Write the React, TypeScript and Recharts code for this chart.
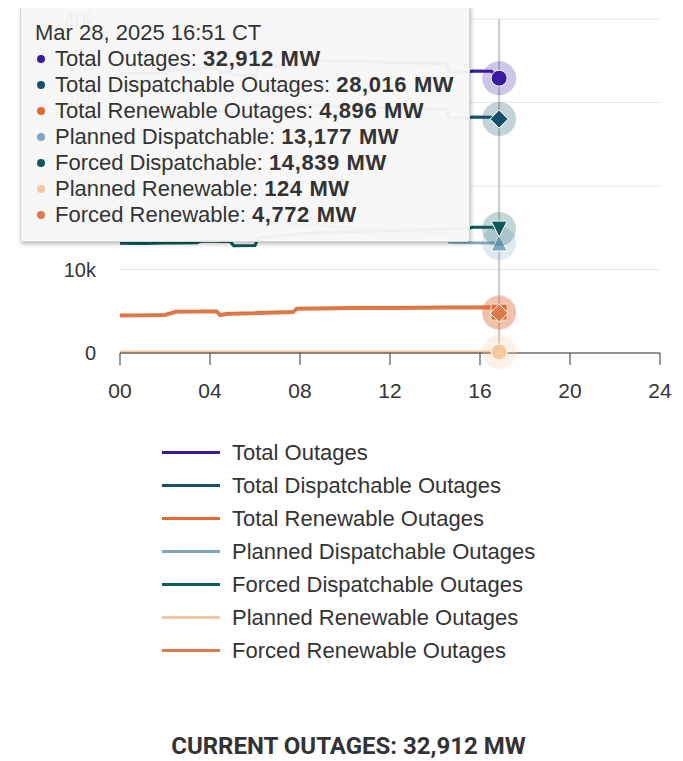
import React from 'react';
import { LineChart, Line, XAxis, YAxis, CartesianGrid, Tooltip, Legend, ReferenceLine } from 'recharts';

// ---- data (MW) ----
const hours = [0, 1.0, 2.0, 2.5, 3.4, 3.6, 4.3, 4.45, 4.75, 4.9, 5.05, 6.0, 6.15, 7.7, 7.85, 9, 10.5, 12, 13.5, 14.5, 14.65, 15.5, 15.65, 16.5, 16.85];
const totalOutages = [33510, 33480, 33532, 33905, 33915, 34088, 34038, 33598, 33690, 33720, 33220, 33241, 34221, 34542, 35012, 35023, 34953, 34804, 34704, 34684, 33664, 33664, 33774, 33754, 32912];
const totalDispatchable = [28970, 28920, 28920, 28910, 28900, 29060, 29020, 29000, 28970, 28960, 28450, 28420, 29360, 29570, 29660, 29620, 29500, 29340, 29210, 29180, 28160, 28150, 28260, 28230, 28016];
const totalRenewable = [4540, 4560, 4612, 4995, 5015, 5028, 5018, 4598, 4720, 4760, 4770, 4821, 4861, 4972, 5352, 5403, 5453, 5464, 5494, 5504, 5504, 5514, 5514, 5524, 4896];
const plannedDispatchable = [15820, 15800, 15760, 15740, 15700, 15680, 15650, 15640, 15620, 15610, 15600, 15560, 15540, 15420, 15400, 15200, 14950, 14700, 14450, 14300, 13260, 13240, 13200, 13180, 13177];
const forcedDispatchable = [13150, 13120, 13160, 13170, 13200, 13380, 13370, 13360, 13350, 13350, 12850, 12860, 13820, 14150, 14260, 14420, 14550, 14640, 14760, 14880, 14900, 14910, 15060, 15050, 14839];
const plannedRenewable = [110, 110, 112, 115, 115, 118, 118, 118, 120, 120, 120, 121, 121, 122, 122, 123, 123, 124, 124, 124, 124, 124, 124, 124, 124];
const forcedRenewable = [4430, 4450, 4500, 4880, 4900, 4910, 4900, 4480, 4600, 4640, 4650, 4700, 4740, 4850, 5230, 5280, 5330, 5340, 5370, 5380, 5380, 5390, 5390, 5400, 4772];

const seriesKeys = ['total', 'totalDisp', 'totalRen', 'plannedDisp', 'forcedDisp', 'plannedRen', 'forcedRen'];
const legendNames = ['Total Outages', 'Total Dispatchable Outages', 'Total Renewable Outages', 'Planned Dispatchable Outages', 'Forced Dispatchable Outages', 'Planned Renewable Outages', 'Forced Renewable Outages'];
const tooltipNames = ['Total Outages', 'Total Dispatchable Outages', 'Total Renewable Outages', 'Planned Dispatchable', 'Forced Dispatchable', 'Planned Renewable', 'Forced Renewable'];
const colors = ['#3a1aa0', '#14506b', '#e5682f', '#7fa6c2', '#0c5a5a', '#f6c7a0', '#dc7a4a'];
const markerShapes = ['circle', 'diamond', 'square', 'triangle', 'triangle-down', 'circle', 'diamond'];

const yTicks = [0, 10000, 20000, 30000, 40000];
const yTickLabels = ['0', '10k', '20k', '30k', '40k'];
const xTicks = [0, 4, 8, 12, 16, 20, 24];
const xTickLabels = ['00', '04', '08', '12', '16', '20', '24'];
const dateLabel = 'Mar 28, 2025';
const tzLabel = 'CT';
const currentLabel = 'CURRENT OUTAGES: 32,912 MW';

const seriesValues = [totalOutages, totalDispatchable, totalRenewable, plannedDispatchable, forcedDispatchable, plannedRenewable, forcedRenewable];
const data = hours.map((h, i) => {
  const row: any = { hour: h };
  seriesKeys.forEach((k, s) => { row[k] = seriesValues[s][i]; });
  return row;
});
const hoverHour = hours[hours.length - 1];

const FONT = '"Liberation Sans", Arial, sans-serif';

function makeActiveDot(shape: string, color: string) {
  return (props: any) => {
    const { cx, cy } = props;
    if (cx == null || cy == null) return <g />;
    const r = 8;
    let mark: any;
    if (shape === 'circle') {
      mark = <circle cx={cx} cy={cy} r={r} fill={color} stroke="#fff" strokeWidth={1} />;
    } else if (shape === 'diamond') {
      const d = r + 1;
      mark = <path d={`M${cx},${cy - d}L${cx + d},${cy}L${cx},${cy + d}L${cx - d},${cy}Z`} fill={color} stroke="#fff" strokeWidth={1} />;
    } else if (shape === 'square') {
      mark = <rect x={cx - r} y={cy - r} width={2 * r} height={2 * r} fill={color} stroke="#fff" strokeWidth={1} />;
    } else if (shape === 'triangle') {
      mark = <path d={`M${cx},${cy - r}L${cx + r},${cy + r}L${cx - r},${cy + r}Z`} fill={color} stroke="#fff" strokeWidth={1} />;
    } else {
      mark = <path d={`M${cx - r},${cy - r}L${cx + r},${cy - r}L${cx},${cy + r}Z`} fill={color} stroke="#fff" strokeWidth={1} />;
    }
    return (
      <g>
        <circle cx={cx} cy={cy} r={17} fill={color} fillOpacity={0.25} />
        {mark}
      </g>
    );
  };
}

function fmtTime(h: number) {
  const hh = Math.floor(h);
  const mm = Math.round((h - hh) * 60);
  return `${String(hh).padStart(2, '0')}:${String(mm).padStart(2, '0')}`;
}

const TooltipBox = (props: any) => {
  const { payload, label } = props;
  if (!payload || !payload.length) return null;
  return (
    <div
      style={{
        width: 450,
        boxSizing: 'border-box',
        background: 'rgba(247,247,247,0.96)',
        border: '1px solid #d6d6d6',
        borderRadius: 3,
        boxShadow: '1px 2px 4px rgba(0,0,0,0.28)',
        padding: '14px 6px 13px 14px',
        fontFamily: FONT,
        fontSize: 22,
        lineHeight: '26px',
        color: '#333',
        whiteSpace: 'nowrap',
      }}
    >
      <div>{`${dateLabel} ${fmtTime(Number(label))} ${tzLabel}`}</div>
      {payload.map((p: any) => {
        const i = seriesKeys.indexOf(p.dataKey);
        return (
          <div key={p.dataKey} style={{ display: 'flex', alignItems: 'center' }}>
            <span style={{ display: 'inline-block', width: 8, height: 8, borderRadius: '50%', background: colors[i], marginLeft: 2, marginRight: 10, flexShrink: 0 }} />
            <span>
              {tooltipNames[i]}: <b style={{ letterSpacing: 0.6 }}>{Number(p.value).toLocaleString('en-US')} MW</b>
            </span>
          </div>
        );
      })}
    </div>
  );
};

const LegendBox = () => (
  <div style={{ fontFamily: FONT, fontSize: 22, color: '#333', width: 420 }}>
    {legendNames.map((n, i) => (
      <div key={n} style={{ height: 33, display: 'flex', alignItems: 'center', whiteSpace: 'nowrap' }}>
        <span style={{ width: 58, height: 3, background: colors[i], marginRight: 12, flexShrink: 0 }} />
        <span>{n}</span>
      </div>
    ))}
  </div>
);

export default function App() {
  return (
    <div style={{ position: 'relative', width: 667, height: 753, fontFamily: FONT }}>
      <div style={{ position: 'absolute', left: -8, top: -8, width: 670, height: 3, background: 'linear-gradient(#c8c8c8, #eeeeee)' }} />
      <div style={{ position: 'absolute', left: 668, top: -8, width: 7, height: 761, background: 'linear-gradient(to right, #a9a9a9, #c9c9c9 40%, #dedede)' }} />
      <LineChart width={672} height={659} data={data} margin={{ top: 11, right: 20, bottom: 0, left: 0 }}>
        <CartesianGrid vertical={false} stroke="#e6e6e6" strokeWidth={1} />
        <XAxis
          dataKey="hour"
          type="number"
          domain={[0, 24]}
          ticks={xTicks}
          tickFormatter={(v: number) => xTickLabels[xTicks.indexOf(v)]}
          height={83}
          stroke="#333"
          tickSize={12}
          tickMargin={18}
          tick={{ fill: '#333', fontSize: 21, fontFamily: FONT }}
          axisLine={{ stroke: '#333', strokeWidth: 1 }}
          tickLine={{ stroke: '#333', strokeWidth: 1 }}
        />
        <YAxis
          domain={[0, 40000]}
          ticks={yTicks}
          tickFormatter={(v: number) => yTickLabels[yTicks.indexOf(v)]}
          width={112}
          axisLine={false}
          tickLine={false}
          tickMargin={18}
          tick={{ fill: '#333', fontSize: 20, fontFamily: FONT }}
        />
        <Legend layout="vertical" verticalAlign="bottom" align="center" content={() => <LegendBox />} wrapperStyle={{ left: 154, width: 420 }} />
        <Tooltip
          active
          defaultIndex={hours.length - 1}
          position={{ x: 12, y: -3 }}
          allowEscapeViewBox={{ x: true, y: true }}
          isAnimationActive={false}
          cursor={false}
          content={(p: any) => <TooltipBox {...p} />}
        />
        {seriesKeys.map((k, i) => (
          <Line
            key={k}
            dataKey={k}
            name={legendNames[i]}
            type="linear"
            stroke={colors[i]}
            strokeWidth={3}
            dot={false}
            activeDot={makeActiveDot(markerShapes[i], colors[i])}
            isAnimationActive={false}
          />
        ))}
        <ReferenceLine x={hoverHour} stroke="#c8c8c8" strokeWidth={2} />
      </LineChart>
      <div style={{ position: 'absolute', left: -8, top: 725, width: 683, boxSizing: 'border-box', paddingLeft: 14, textAlign: 'center', fontFamily: 'Roboto, sans-serif', fontWeight: 700, fontSize: 24, lineHeight: '26px', color: '#333', whiteSpace: 'nowrap' }}>
        {currentLabel}
      </div>
    </div>
  );
}
